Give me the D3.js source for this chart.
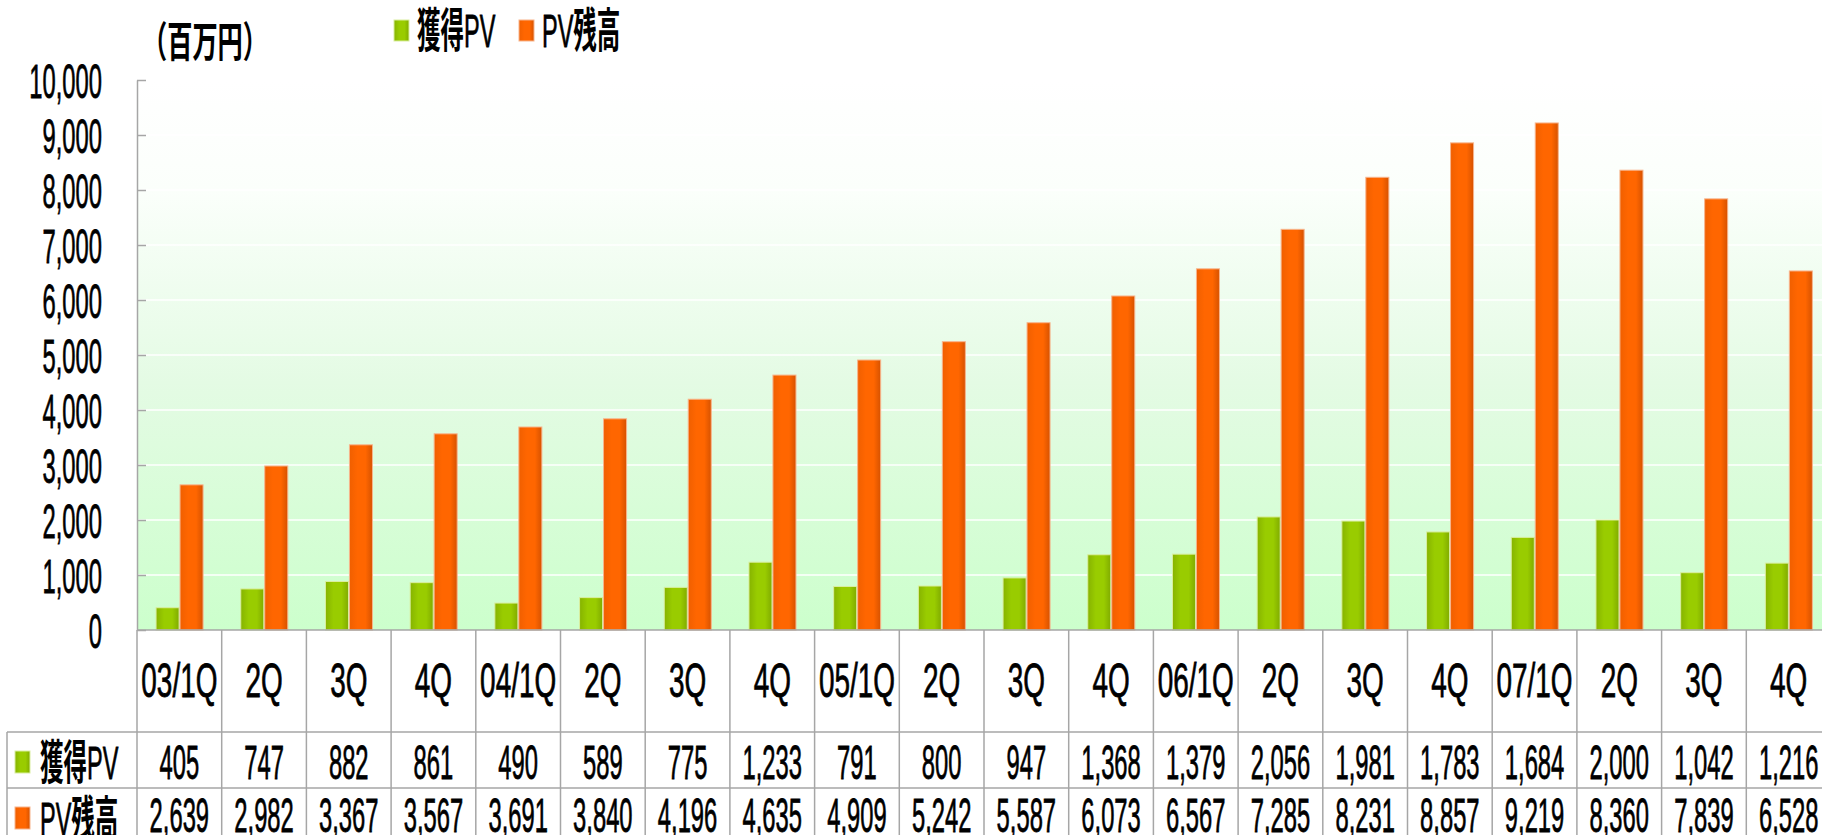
<!DOCTYPE html>
<html lang="ja">
<head>
  <meta charset="UTF-8">
  <title>獲得PV・PV残高</title>
  <style>
    html, body { margin: 0; padding: 0; background: #fff; overflow: hidden; }
    svg { display: block; }
    text { font-family: "Liberation Sans", "Noto Sans CJK JP", sans-serif; fill: #000; stroke: #000; stroke-width: 0.8px; }
    .cjk { font-family: "Noto Sans CJK JP", sans-serif; font-weight: bold; stroke-width: 0; }
  </style>
</head>
<body>
  <svg width="1822" height="835"></svg>
  <script src="https://d3js.org/d3.v7.min.js"></script>
  <script>
    // data
    const categories = ["03/1Q", "2Q", "3Q", "4Q", "04/1Q", "2Q", "3Q", "4Q", "05/1Q", "2Q",
                        "3Q", "4Q", "06/1Q", "2Q", "3Q", "4Q", "07/1Q", "2Q", "3Q", "4Q"];
    const acquiredPV = [405, 747, 882, 861, 490, 589, 775, 1233, 791, 800,
                        947, 1368, 1379, 2056, 1981, 1783, 1684, 2000, 1042, 1216];
    const pvBalance = [2639, 2982, 3367, 3567, 3691, 3840, 4196, 4635, 4909, 5242,
                       5587, 6073, 6567, 7285, 8231, 8857, 9219, 8360, 7839, 6528];
    const seriesNames = [["獲得", "PV"], ["PV", "残高"]];
    const yTicks = [0, 1000, 2000, 3000, 4000, 5000, 6000, 7000, 8000, 9000, 10000];

    const SX = 0.485;         // the whole chart is squeezed horizontally
    const FS = 49;
    const plotL = 137, plotR = 1831, plotT = 80, plotB = 630;
    const tableLeft = 7, row1 = 732, row2 = 788, rowH = 56;
    const gridColor = "#a6a6a6";

    const svg = d3.select("svg");
    const defs = svg.append("defs");

    const bg = defs.append("linearGradient").attr("id", "bg")
      .attr("x1", 0).attr("y1", 0).attr("x2", 0).attr("y2", 1);
    bg.append("stop").attr("offset", "0%").attr("stop-color", "#ffffff");
    bg.append("stop").attr("offset", "20%").attr("stop-color", "#fbfffb");
    bg.append("stop").attr("offset", "55%").attr("stop-color", "#e4fbe4");
    bg.append("stop").attr("offset", "100%").attr("stop-color", "#ccffcc");

    function barGradient(id, edge, mid, dark) {
      const g = defs.append("linearGradient").attr("id", id)
        .attr("x1", 0).attr("y1", 0).attr("x2", 1).attr("y2", 0);
      g.append("stop").attr("offset", "0%").attr("stop-color", edge);
      g.append("stop").attr("offset", "35%").attr("stop-color", mid);
      g.append("stop").attr("offset", "70%").attr("stop-color", mid);
      g.append("stop").attr("offset", "100%").attr("stop-color", dark);
    }
    barGradient("gGreen", "#86b300", "#99cc00", "#80ab00");
    barGradient("gOrange", "#f05f00", "#ff6600", "#d65200");

    const x0 = d3.scaleBand().domain(d3.range(categories.length)).range([plotL, plotR]);
    const bw = x0.bandwidth();
    const x1 = d3.scaleBand().domain([0, 1]).range([bw * 0.225, bw * 0.78]).paddingInner(0.04);
    const y = d3.scaleLinear().domain([0, 10000]).range([plotB, plotT]);

    // plot background
    svg.append("rect")
      .attr("x", plotL).attr("y", plotT)
      .attr("width", plotR - plotL).attr("height", plotB - plotT)
      .attr("fill", "url(#bg)");

    // white gridlines
    svg.append("g").selectAll("line")
      .data(yTicks.filter(d => d > 0))
      .join("line")
      .attr("x1", plotL).attr("x2", plotR)
      .attr("y1", d => y(d)).attr("y2", d => y(d))
      .attr("stroke", "#ffffff").attr("stroke-width", 1.5);

    // bars
    const series = [
      { values: acquiredPV, fill: "url(#gGreen)", stroke: "#d9eea0" },
      { values: pvBalance, fill: "url(#gOrange)", stroke: "#f7b48c" }
    ];
    series.forEach((s, si) => {
      svg.append("g").selectAll("rect")
        .data(s.values)
        .join("rect")
        .attr("x", (d, i) => x0(i) + x1(si))
        .attr("y", d => y(d))
        .attr("width", x1.bandwidth())
        .attr("height", d => y(0) - y(d))
        .attr("fill", s.fill)
        .attr("stroke", s.stroke)
        .attr("stroke-width", 1);
    });

    // y axis
    const yAxis = svg.append("g")
      .attr("transform", `translate(${plotL},0)`)
      .call(d3.axisLeft(y).tickValues(yTicks).tickFormat(d3.format(","))
        .tickSizeInner(-9).tickSizeOuter(0));
    yAxis.select(".domain").attr("stroke", gridColor).attr("stroke-width", 1.5);
    yAxis.selectAll(".tick line").attr("stroke", gridColor).attr("stroke-width", 1.5);
    yAxis.selectAll(".tick text")
      .attr("x", -35 / SX)
      .attr("dy", "0.36em")
      .attr("transform", `scale(${SX},1)`)
      .attr("text-anchor", "end")
      .attr("fill", "#000")
      .style("font-size", FS + "px")
      .style("font-family", "'Liberation Sans', sans-serif");

    // table grid
    const grid = svg.append("g").attr("stroke", gridColor).attr("stroke-width", 1.5);
    grid.append("line").attr("x1", plotL).attr("x2", 1822).attr("y1", plotB).attr("y2", plotB);
    [row1, row2].forEach(ry => {
      grid.append("line").attr("x1", tableLeft).attr("x2", 1822).attr("y1", ry).attr("y2", ry);
    });
    grid.append("line").attr("x1", tableLeft).attr("x2", tableLeft).attr("y1", row1).attr("y2", 835);
    grid.selectAll(".v")
      .data(d3.range(categories.length + 1))
      .join("line")
      .attr("x1", d => plotL + d * bw).attr("x2", d => plotL + d * bw)
      .attr("y1", plotB).attr("y2", 835);

    function scaled(g, x, yy, str, anchor, size, sx) {
      return g.append("text")
        .attr("transform", `translate(${x},${yy}) scale(${sx || SX},1)`)
        .attr("text-anchor", anchor)
        .attr("dy", "0.36em")
        .style("font-size", size + "px")
        .text(str);
    }

    // category labels and values
    const cells = svg.append("g");
    categories.forEach((c, i) => {
      const cx = x0(i) + bw / 2;
      scaled(cells, cx, 679, c, "middle", FS, 0.57);
      scaled(cells, cx, row1 + rowH / 2 + 1, d3.format(",")(acquiredPV[i]), "middle", FS);
      scaled(cells, cx, row2 + rowH / 2 - 2, d3.format(",")(pvBalance[i]), "middle", FS);
    });

    // series label with bold kanji and plain latin
    function seriesLabel(g, x, yy, parts, size, sx) {
      const t = g.append("text")
        .attr("transform", `translate(${x},${yy}) scale(${sx},1)`)
        .attr("dy", "0.36em")
        .style("font-size", size + "px");
      parts.forEach(p => {
        const isCjk = /[^\x00-\x7f]/.test(p);
        t.append("tspan").attr("class", isCjk ? "cjk" : null).text(p);
      });
      return t;
    }

    const markerFills = ["url(#gGreen)", "url(#gOrange)"];
    const tbl = svg.append("g");
    [row1, row2].forEach((ry, i) => {
      const cy = ry + rowH / 2;
      tbl.append("rect").attr("x", 15).attr("y", cy - 9).attr("width", 15).attr("height", 22)
        .attr("fill", markerFills[i]).attr("stroke", series[i].stroke);
      seriesLabel(tbl, 40, cy + 2, seriesNames[i], 47, 0.5);
    });

    // top legend
    const legend = svg.append("g");
    const legendX = [394, 519];
    seriesNames.forEach((n, i) => {
      legend.append("rect").attr("x", legendX[i]).attr("y", 20).attr("width", 15).attr("height", 21)
        .attr("fill", markerFills[i]).attr("stroke", series[i].stroke);
      seriesLabel(legend, legendX[i] + 23, 30, n, 47, 0.5);
    });

    // unit
    svg.append("text")
      .attr("class", "cjk")
      .attr("transform", `translate(142,42) scale(0.6,1)`)
      .attr("dy", "0.36em")
      .style("font-size", "42px")
      .text("（百万円）");
  </script>
</body>
</html>
